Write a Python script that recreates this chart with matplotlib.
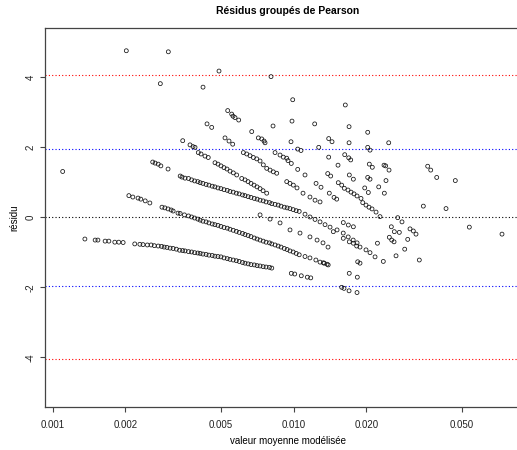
import matplotlib
matplotlib.use("Agg")
import matplotlib.pyplot as plt
import numpy as np

plt.rcParams['font.family'] = ['Liberation Sans', 'DejaVu Sans']
plt.rcParams['axes.unicode_minus'] = False

# bandes de residus (valeur moyenne modelisee, residu)
bande_a = [(0.00136, -0.62), (0.00150, -0.65), (0.00154, -0.65), (0.00165, -0.68), (0.00171, -0.68),
           (0.00181, -0.71), (0.00188, -0.71), (0.00196, -0.72), (0.00219, -0.76), (0.00230, -0.77),
           (0.00237, -0.78), (0.00247, -0.79), (0.00256, -0.79), (0.00264, -0.81), (0.00274, -0.82),
           (0.00283, -0.83), (0.00290, -0.85), (0.00298, -0.86), (0.00307, -0.88), (0.00316, -0.89),
           (0.00326, -0.91), (0.00336, -0.94), (0.00346, -0.95), (0.00354, -0.96), (0.00366, -0.98),
           (0.00377, -0.99), (0.00388, -1.01), (0.00400, -1.02), (0.00409, -1.03), (0.00420, -1.05),
           (0.00433, -1.06), (0.00445, -1.08), (0.00459, -1.09), (0.00471, -1.11), (0.00485, -1.12),
           (0.00499, -1.13), (0.00514, -1.16), (0.00530, -1.18), (0.00544, -1.20), (0.00561, -1.22),
           (0.00578, -1.24), (0.00594, -1.26), (0.00613, -1.29), (0.00628, -1.31), (0.00647, -1.33),
           (0.00665, -1.35), (0.00686, -1.36), (0.00705, -1.38), (0.00725, -1.39), (0.00747, -1.41),
           (0.00768, -1.42), (0.00793, -1.43), (0.00811, -1.45)]

bande_b = [(0.00207, 0.62), (0.00215, 0.58), (0.00226, 0.55), (0.00232, 0.52), (0.00242, 0.47),
           (0.00253, 0.41), (0.00284, 0.29), (0.00292, 0.27), (0.00301, 0.24), (0.00310, 0.21),
           (0.00316, 0.18), (0.00331, 0.12), (0.00338, 0.11), (0.00352, 0.07), (0.00366, 0.04),
           (0.00377, 0.01), (0.00388, -0.02), (0.00400, -0.05), (0.00409, -0.08), (0.00420, -0.11),
           (0.00433, -0.13), (0.00445, -0.16), (0.00459, -0.19), (0.00471, -0.21), (0.00485, -0.23),
           (0.00499, -0.26), (0.00514, -0.29), (0.00530, -0.31), (0.00544, -0.34), (0.00561, -0.37),
           (0.00578, -0.40), (0.00594, -0.43), (0.00613, -0.46), (0.00628, -0.49), (0.00647, -0.52),
           (0.00665, -0.55), (0.00686, -0.59), (0.00705, -0.62), (0.00725, -0.65), (0.00747, -0.68),
           (0.00768, -0.71), (0.00793, -0.73), (0.00811, -0.76), (0.00837, -0.79), (0.00862, -0.82),
           (0.00886, -0.85), (0.00914, -0.89), (0.00939, -0.92), (0.00965, -0.96), (0.00995, -0.99),
           (0.01024, -1.03), (0.01054, -1.07), (0.01114, -1.12), (0.01168, -1.16), (0.01236, -1.22),
           (0.01286, -1.28), (0.01338, -1.31), (0.01390, -1.36)]

bande_c = [(0.00260, 1.58), (0.00266, 1.55), (0.00274, 1.52), (0.00281, 1.47), (0.00301, 1.38),
           (0.00338, 1.18), (0.00344, 1.15), (0.00354, 1.12), (0.00366, 1.11), (0.00377, 1.07),
           (0.00388, 1.04), (0.00400, 1.02), (0.00409, 0.99), (0.00420, 0.97), (0.00433, 0.94),
           (0.00445, 0.92), (0.00459, 0.89), (0.00471, 0.87), (0.00485, 0.84), (0.00499, 0.82),
           (0.00514, 0.79), (0.00530, 0.77), (0.00544, 0.74), (0.00561, 0.72), (0.00578, 0.69),
           (0.00594, 0.67), (0.00613, 0.64), (0.00628, 0.62), (0.00647, 0.59), (0.00665, 0.57),
           (0.00686, 0.54), (0.00705, 0.52), (0.00725, 0.49), (0.00747, 0.47), (0.00768, 0.44),
           (0.00793, 0.42), (0.00811, 0.39), (0.00837, 0.37), (0.00862, 0.35), (0.00886, 0.32),
           (0.00914, 0.29), (0.00939, 0.27), (0.00965, 0.25), (0.00995, 0.22), (0.01024, 0.19),
           (0.01054, 0.17), (0.01114, 0.09), (0.01168, 0.01), (0.01226, -0.06), (0.01286, -0.13),
           (0.01349, -0.21), (0.01415, -0.28), (0.01513, -0.36), (0.01605, -0.45), (0.01683, -0.56),
           (0.01765, -0.65), (0.01832, -0.73), (0.01884, -0.85)]

bande_d = [(0.003463, 2.19), (0.003713, 2.07), (0.003821, 2.02), (0.003895, 2.00), (0.004019, 1.85),
           (0.004125, 1.81), (0.004285, 1.75), (0.004420, 1.71), (0.004714, 1.56), (0.004851, 1.52),
           (0.004992, 1.47), (0.005137, 1.42), (0.005286, 1.38), (0.005442, 1.32), (0.005616, 1.27),
           (0.005801, 1.21), (0.006086, 1.11), (0.006281, 1.07), (0.006465, 1.02), (0.006652, 0.97),
           (0.006845, 0.92), (0.007044, 0.87), (0.007250, 0.82), (0.007460, 0.76), (0.007727, 0.69)]

bande_e = [(0.005187, 2.27), (0.005390, 2.18), (0.005583, 2.09), (0.006181, 1.85), (0.006383, 1.81),
           (0.006589, 1.76), (0.006800, 1.71), (0.007024, 1.67), (0.007250, 1.61), (0.007478, 1.50),
           (0.007727, 1.40), (0.007977, 1.35), (0.008230, 1.30), (0.008502, 1.26), (0.009355, 1.02),
           (0.009652, 0.97), (0.009962, 0.92), (0.01032, 0.84), (0.01093, 0.69), (0.01168, 0.58),
           (0.01226, 0.49), (0.01286, 0.44)]

bande_f = [(0.007132, 2.27), (0.007367, 2.24), (0.007531, 2.18), (0.007604, 2.13), (0.008367, 1.85),
           (0.008776, 1.78), (0.009054, 1.72), (0.009355, 1.69), (0.009470, 1.62), (0.009772, 1.54),
           (0.01039, 1.37), (0.01114, 1.21), (0.01238, 0.97), (0.01298, 0.86), (0.01405, 0.69),
           (0.01470, 0.57), (0.01508, 0.52)]

bande_g = [(0.007250, 0.07), (0.007977, -0.05), (0.008776, -0.16), (0.009652, -0.36), (0.01062, -0.45),
           (0.01168, -0.56), (0.01250, -0.65), (0.01323, -0.73), (0.01388, -0.85)]

points_isoles = [(0.002020, 4.76), (0.003018, 4.73), (0.004898, 4.18), (0.008052, 4.02), (0.002796, 3.82),
                 (0.004204, 3.72), (0.009906, 3.36), (0.01637, 3.21), (0.001100, 1.31),
                 (0.005323, 3.05), (0.005530, 2.95), (0.005600, 2.89), (0.005708, 2.85), (0.005913, 2.78),
                 (0.004368, 2.67), (0.004568, 2.57), (0.009838, 2.75), (0.008207, 2.61), (0.006696, 2.45),
                 (0.01222, 2.67), (0.01697, 2.59), (0.02028, 2.43),
                 (0.009745, 2.16), (0.01397, 2.25), (0.01442, 2.16), (0.01697, 2.13), (0.02479, 2.13),
                 (0.01270, 2.00), (0.01039, 1.95), (0.01072, 1.91), (0.02028, 2.00), (0.02073, 1.92),
                 (0.01397, 1.72), (0.01628, 1.79), (0.01692, 1.70), (0.01724, 1.64), (0.01527, 1.49),
                 (0.02059, 1.52), (0.02119, 1.43), (0.02370, 1.49), (0.02408, 1.47), (0.02486, 1.35),
                 (0.01384, 1.25), (0.01424, 1.18), (0.01701, 1.21), (0.01768, 1.09), (0.02028, 1.14),
                 (0.02073, 1.09), (0.02415, 1.05),
                 (0.01531, 0.99), (0.01582, 0.92), (0.01622, 0.83), (0.01680, 0.78), (0.01729, 0.72),
                 (0.01779, 0.67), (0.01831, 0.61), (0.01902, 0.54),
                 (0.01971, 0.84), (0.02040, 0.71), (0.02253, 0.87), (0.02377, 0.69),
                 (0.03597, 1.46), (0.03703, 1.35), (0.03921, 1.14), (0.04683, 1.05),
                 (0.01934, 0.42), (0.01995, 0.35), (0.02053, 0.29), (0.02113, 0.24), (0.02196, 0.15),
                 (0.02281, 0.02),
                 (0.03450, 0.32), (0.04286, 0.25), (0.02701, -0.01), (0.02814, -0.13), (0.05354, -0.28),
                 (0.07316, -0.48),
                 (0.03038, -0.33), (0.03135, -0.39), (0.03217, -0.48), (0.02541, -0.27), (0.02615, -0.41),
                 (0.02743, -0.43), (0.02972, -0.63), (0.02888, -0.91), (0.03320, -1.22), (0.02658, -1.10),
                 (0.02354, -1.26),
                 (0.02493, -0.57), (0.02551, -0.65), (0.02608, -0.70), (0.02225, -0.74), (0.01995, -0.93),
                 (0.02073, -1.01), (0.02175, -1.13),
                 (0.01843, -1.27), (0.01884, -1.31), (0.01700, -1.60), (0.01836, -1.71), (0.01582, -2.00),
                 (0.01617, -2.03), (0.01697, -2.10), (0.01831, -2.15),
                 (0.009772, -1.60), (0.01010, -1.62), (0.01075, -1.67), (0.01139, -1.71), (0.01177, -1.73),
                 (0.01327, -1.30), (0.01375, -1.34),
                 (0.01606, -0.60), (0.01701, -0.70), (0.01768, -0.74), (0.01825, -0.82), (0.01606, -0.15),
                 (0.01685, -0.22), (0.01768, -0.27), (0.01460, -0.41)]

seuils_bleus = [-1.96, 1.96]
seuils_rouges = [-4.06, 4.06]
x_ticks = [0.001, 0.002, 0.005, 0.010, 0.020, 0.050]
x_labels = ['0.001', '0.002', '0.005', '0.010', '0.020', '0.050']
y_ticks = [-4, -2, 0, 2, 4]

fig = plt.figure(figsize=(5.17, 4.5), dpi=100)
ax = fig.add_axes([45 / 517, 43 / 450, 485 / 517, 379 / 450])

for bande in [bande_a, bande_b, bande_c, bande_d, bande_e, bande_f, bande_g, points_isoles]:
    pts = np.array(bande)
    ax.scatter(pts[:, 0], pts[:, 1], s=8, facecolors='none', edgecolors='#111111',
               linewidths=0.55, zorder=3)

pointille = (0, (1, 2))
ax.axhline(0, color='black', lw=0.8, ls=pointille, zorder=2)
for s in seuils_bleus:
    ax.axhline(s, color='blue', lw=0.8, ls=pointille, zorder=2)
for s in seuils_rouges:
    ax.axhline(s, color='red', lw=0.8, ls=pointille, zorder=2)

ax.set_xscale('log')
ax.set_xlim(0.000929, 0.0956)
ax.set_ylim(-5.42, 5.41)
ax.set_xticks(x_ticks)
ax.set_xticklabels(x_labels)
ax.minorticks_off()
ax.set_yticks(y_ticks)
ax.set_yticklabels([str(v) for v in y_ticks], rotation=90, va='center')

for sp in ax.spines.values():
    sp.set_color('#444444')
    sp.set_linewidth(0.9)
ax.tick_params(axis='both', labelsize=7, length=3.5, width=0.8, color='#444444',
               labelcolor='#222222')
ax.tick_params(axis='x', pad=6)
ax.tick_params(axis='y', pad=3)

ax.set_title('Résidus groupés de Pearson', fontsize=7.5, fontweight='bold', pad=10)
ax.set_xlabel('valeur moyenne modélisée', fontsize=7, labelpad=4)
ax.set_ylabel('résidu', fontsize=7, labelpad=5)

fig.savefig('out.png', dpi=100)
